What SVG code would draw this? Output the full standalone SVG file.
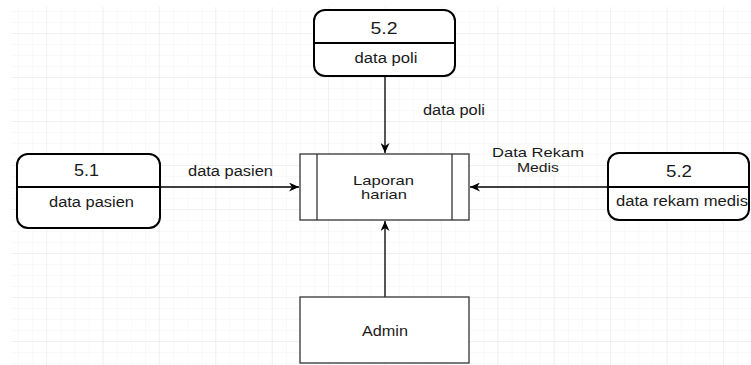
<svg xmlns="http://www.w3.org/2000/svg" width="751" height="365" viewBox="0 0 751 365">
<defs>
<pattern id="minor" patternUnits="userSpaceOnUse" x="4" y="0" width="14.1" height="11">
<path d="M0,0 V11 M0,0 H14.1" fill="none" stroke="#f4f4f4" stroke-width="1"/>
</pattern>
<pattern id="major" patternUnits="userSpaceOnUse" x="46" y="33" width="56.4" height="44">
<path d="M0,0 V44 M0,0 H56.4" fill="none" stroke="#e8e8e8" stroke-width="1"/>
</pattern>
<marker id="arr" markerUnits="userSpaceOnUse" markerWidth="11" markerHeight="9" refX="10" refY="4.5" orient="auto">
<path d="M0,0 L10,4.5 L0,9 L3,4.5 Z" fill="#000"/>
</marker>
</defs>
<style>
.t{font-family:"Liberation Sans",Arial,sans-serif;font-size:14px;fill:#1a1a1a;text-anchor:middle}
.n{font-size:16px}
.s{font-size:13px}
.store{fill:#fff;stroke:#000;stroke-width:2}
.box{fill:#fff;stroke:#333;stroke-width:1.3}
.c{fill:none;stroke:#000;stroke-width:1.3;marker-end:url(#arr)}
</style>
<rect width="751" height="365" fill="#fff"/>
<rect x="11" y="7" width="740" height="358" fill="url(#minor)"/>
<rect x="11" y="7" width="740" height="358" fill="url(#major)"/>

<g id="connectors">
<path class="c" d="M385,77 V153"/>
<path class="c" d="M161,187 H299"/>
<path class="c" d="M607,187 H470"/>
<path class="c" d="M385,297 V221"/>
<text class="t" x="454" y="115" textLength="62" lengthAdjust="spacingAndGlyphs">data poli</text>
<text class="t" x="230.5" y="176" textLength="85" lengthAdjust="spacingAndGlyphs">data pasien</text>
<text class="t s" x="538" y="157" textLength="92" lengthAdjust="spacingAndGlyphs">Data Rekam</text>
<text class="t s" x="538" y="172" textLength="42" lengthAdjust="spacingAndGlyphs">Medis</text>
</g>

<g id="store-poli">
<rect class="store" x="314" y="10" width="141" height="66" rx="11"/>
<line x1="314" y1="43" x2="455" y2="43" stroke="#000" stroke-width="2"/>
<text class="t n" x="384" y="34" textLength="27" lengthAdjust="spacingAndGlyphs">5.2</text>
<text class="t" x="386" y="63" textLength="63" lengthAdjust="spacingAndGlyphs">data poli</text>
</g>

<g id="store-pasien">
<rect class="store" x="17" y="154" width="143" height="74" rx="11"/>
<line x1="17" y1="187" x2="160" y2="187" stroke="#000" stroke-width="2"/>
<text class="t n" x="86.5" y="176" textLength="25" lengthAdjust="spacingAndGlyphs">5.1</text>
<text class="t" x="91.5" y="207" textLength="85" lengthAdjust="spacingAndGlyphs">data pasien</text>
</g>

<g id="store-rekam">
<rect class="store" x="608" y="153" width="141" height="67" rx="11"/>
<line x1="608" y1="187" x2="749" y2="187" stroke="#000" stroke-width="2"/>
<text class="t n" x="679" y="177" textLength="26" lengthAdjust="spacingAndGlyphs">5.2</text>
<text class="t" x="682" y="206" textLength="132" lengthAdjust="spacingAndGlyphs">data rekam medis</text>
</g>

<g id="process-laporan">
<rect class="box" x="300" y="154" width="169" height="66"/>
<line x1="317" y1="154" x2="317" y2="220" stroke="#333" stroke-width="1.3"/>
<line x1="452" y1="154" x2="452" y2="220" stroke="#333" stroke-width="1.3"/>
<text class="t s" x="383.5" y="184.5" textLength="61" lengthAdjust="spacingAndGlyphs">Laporan</text>
<text class="t s" x="384" y="199" textLength="46" lengthAdjust="spacingAndGlyphs">harian</text>
</g>

<g id="entity-admin">
<rect class="box" x="300" y="297" width="169" height="66"/>
<text class="t" x="385" y="336" textLength="46" lengthAdjust="spacingAndGlyphs">Admin</text>
</g>
</svg>
